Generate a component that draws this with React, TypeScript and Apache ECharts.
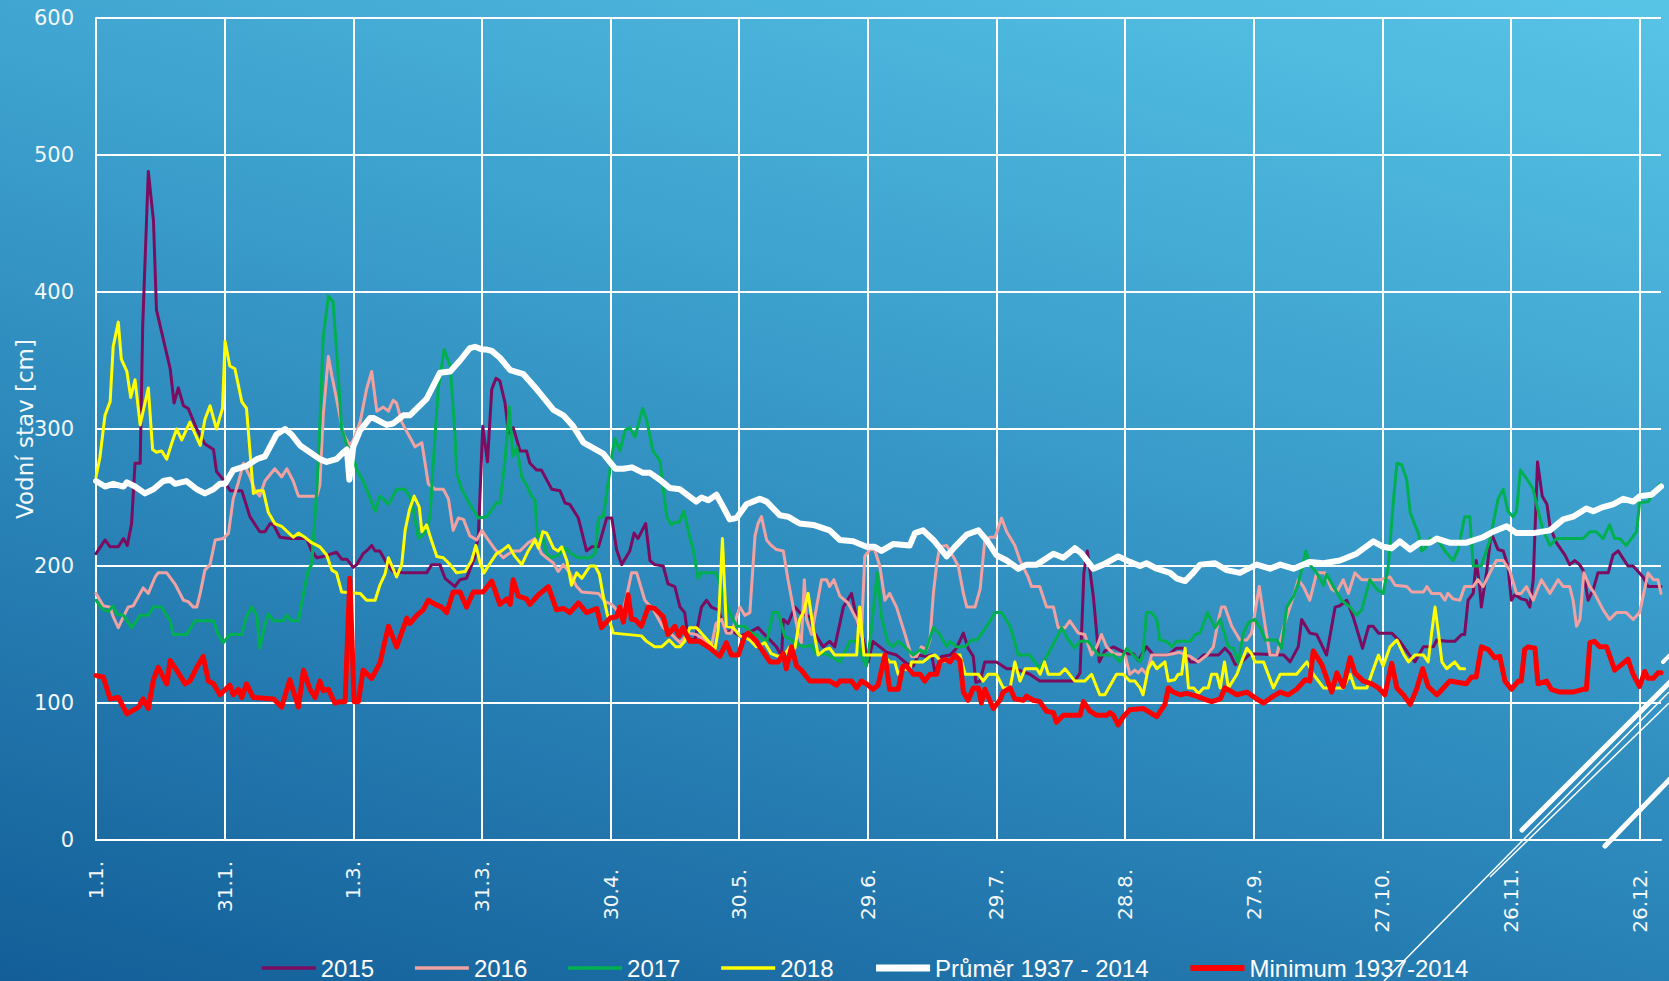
import React, { useEffect, useRef } from 'react';
import * as echarts from 'echarts';

// x tick labels (every 30 days of a leap year)
const TICK_LABELS = ['1.1.', '31.1.', '1.3.', '31.3.', '30.4.', '30.5.', '29.6.', '29.7.', '28.8.', '27.9.', '27.10.', '26.11.', '26.12.'];
const SERIES_NAMES = ['2015', '2016', '2017', '2018', 'Průměr 1937 - 2014', 'Minimum 1937-2014'];
const SERIES_COLORS = ['#7b0c60', '#f0a2a2', '#00b050', '#ffff00', '#ffffff', '#ff0000'];
const SERIES_WIDTHS = [3, 3, 3, 3, 6, 5];
const LEGEND_WIDTHS = [3.5, 3.5, 3.5, 3.5, 7, 6];

// [day of year index, water level cm]
const S2015: [number, number][] = [[0,209],[2.1,219],[3.3,214],[5.2,214],[6.4,220],[7.3,215],[8.3,231],[9.1,275],[10.3,275],[10.9,376],[12.2,488],[13.4,452],[14.1,387],[17.3,344],[18.2,319],[19.2,330],[20.4,317],[21.5,315],[23.5,300],[25.4,289],[27.4,285],[28.1,269],[29.7,263],[31.3,255],[34,255],[35.9,236],[38.2,225],[39.4,225],[40.6,231],[41.4,230],[42.9,221],[45.2,220],[49.1,220],[50.3,211],[51.5,206],[53,207],[56.1,210],[57.3,205],[58.5,205],[60,199],[60.8,201],[62.3,209],[63.1,211],[64.3,215],[65.1,211],[66.2,211],[67.8,202],[69.3,196],[71.7,195],[77.1,195],[78.3,201],[80.2,201],[81.4,191],[83.7,185],[84.9,190],[86.4,191],[88.4,207],[89.2,224],[90.2,302],[91.3,276],[92.3,329],[93.3,337],[94.2,335],[95.4,319],[96.2,297],[97.3,301],[98.9,284],[100.4,284],[101.2,275],[102.8,270],[103.9,270],[106.3,256],[108.2,255],[109.4,246],[110.5,245],[112.5,235],[114.4,211],[115.6,214],[117.2,214],[119.1,235],[120.3,235],[121.4,212],[122.6,201],[124.5,211],[125.5,224],[126.4,220],[128.2,231],[129.2,204],[130.3,201],[132.3,200],[133.4,187],[135,185],[136.2,170],[137.3,166],[138.1,147],[139.7,146],[141.2,170],[142.4,175],[143.5,170],[145.1,168],[147,151],[148.2,153],[150.2,149],[152.1,151],[154.4,155],[155.6,151],[158.7,141],[159.9,134],[160.3,161],[161.4,158],[163,170],[164.1,166],[166.5,163],[167.6,151],[169.6,141],[171.1,145],[172.3,141],[174.3,170],[176.2,180],[178.1,151],[178.9,147],[180.1,130],[181.2,145],[182.8,141],[184.4,137],[186.7,135],[189,129],[190.6,127],[191.8,135],[193.7,134],[194.9,135],[195.7,122],[197.2,134],[199.2,135],[200.7,140],[202.3,151],[203.4,140],[204.6,134],[205.2,115],[206.2,116],[207.3,130],[210,130],[212.4,125],[214.3,125],[217.8,121],[220.1,116],[228.3,116],[229.5,122],[230.4,195],[231.2,211],[232.6,178],[234,130],[235.3,138],[237.3,141],[240.4,136],[241.9,136],[243.1,131],[245,141],[246.6,135],[249.7,135],[250.5,136],[252,140],[253.6,140],[255.2,130],[256.7,130],[258.3,135],[261.8,135],[263.3,140],[264.5,136],[265.7,128],[267.2,130],[269.2,136],[277,135],[278.5,130],[280.4,141],[281.2,161],[283.1,151],[284.7,150],[287,135],[289,170],[290.1,171],[291.7,175],[293.3,162],[295.4,140],[296.8,156],[297.9,156],[299.1,151],[302.2,151],[304.1,145],[306.1,136],[307.6,130],[309.6,141],[311.9,141],[312.7,146],[315,145],[316.9,145],[318.5,150],[319.2,150],[320,175],[321.2,180],[321.9,204],[322.7,185],[323.1,170],[324.3,195],[325.4,224],[327,212],[328.2,211],[329.3,200],[330.1,175],[330.9,179],[332.4,176],[333.6,175],[334.4,170],[335.2,190],[336.2,276],[337.3,251],[338.4,245],[339.1,229],[340.6,217],[342.6,208],[343.7,201],[344.9,204],[346,201],[346.8,197],[348,175],[349.2,183],[350.3,195],[352.7,195],[353.8,208],[355,211],[357.3,200],[358.5,200],[360.8,192],[362,185],[365,185]];

const S2016: [number, number][] = [[0,180],[1.7,171],[3.3,170],[4,163],[5.2,155],[6.4,163],[7.5,170],[8.7,171],[11,184],[12.2,180],[13.8,192],[14.5,195],[16.5,195],[18.4,187],[20.4,175],[21.5,174],[22.7,170],[23.5,170],[24.3,180],[25.4,197],[26.6,201],[27.8,219],[29.7,220],[30.9,224],[32,249],[33.2,261],[34.4,275],[35.9,265],[37.1,255],[38.2,251],[39.4,262],[41.7,271],[43.3,265],[44.5,271],[46,262],[47.2,251],[51.5,251],[52.2,259],[53,310],[54.2,353],[55,339],[56.1,322],[57.7,296],[59.2,288],[60,292],[61.6,305],[63.1,329],[64.3,342],[65.5,313],[67,316],[68.2,313],[69.3,321],[70.1,319],[71.3,305],[73.2,294],[74.4,287],[76,290],[77.5,260],[79.1,256],[81,256],[82.2,249],[83.3,226],[84.5,235],[85.7,234],[87.2,222],[88.8,219],[90,226],[91.5,219],[93.1,212],[95,206],[95.8,208],[97.3,211],[98.9,211],[100.8,217],[102.4,220],[103.9,209],[105.1,206],[106.7,202],[107.8,196],[109,201],[110.5,195],[112.1,185],[113.3,181],[117.2,180],[118.7,174],[120.3,172],[121.4,168],[123,168],[124.1,183],[124.9,195],[126.1,195],[128,175],[130,168],[132.3,155],[134.6,149],[136.2,144],[138.1,151],[140,150],[142,146],[143.5,141],[144.6,158],[145.9,161],[147,151],[148.2,151],[149.4,163],[150.2,170],[151.3,164],[152.5,166],[153.7,222],[154.4,231],[155.2,236],[156.4,219],[157.5,215],[158.7,212],[160.3,211],[161.4,190],[162.6,170],[163.8,151],[164.5,144],[165.2,190],[165.7,161],[166.9,150],[169.2,190],[170.4,190],[171.1,185],[172.1,190],[173.5,178],[175.4,173],[177.4,161],[178.5,149],[179.3,207],[180.5,212],[181.6,212],[182.8,200],[184,175],[185.1,180],[186.7,170],[188.6,151],[190.2,134],[191.4,134],[192.5,141],[193.7,139],[194.5,146],[195.3,180],[196.1,202],[196.8,214],[198.4,215],[199.9,207],[201.1,200],[202.3,180],[203.1,170],[205,170],[206.2,183],[207.3,219],[208.5,221],[209.7,221],[211.2,235],[212.4,225],[214.3,215],[215.5,204],[217.4,192],[218.2,185],[220.1,185],[221.7,170],[223.3,170],[224.4,155],[226,155],[227.1,160],[229.1,151],[230.6,150],[232.2,135],[233.4,141],[234.5,150],[235.7,141],[237.3,136],[240,135],[241.1,121],[242.3,124],[243.1,122],[243.9,125],[245,121],[246.2,135],[249.7,135],[252.8,137],[254,135],[255.2,134],[257.1,130],[259.1,135],[260.6,141],[261.8,161],[262.5,170],[263.3,170],[264.9,156],[266.8,146],[268.4,146],[269.5,151],[271.3,185],[272.7,156],[273.8,135],[275.4,135],[277.3,159],[279.3,178],[280.4,190],[281.6,185],[283.1,175],[284.7,195],[286.6,195],[288.2,183],[289.4,181],[290.9,190],[292.1,180],[293.6,195],[295.2,190],[299.5,190],[301.8,192],[303,186],[305.7,185],[306.9,181],[309.6,181],[310.4,185],[311.5,180],[313.5,180],[314.6,175],[315.3,180],[316.5,176],[318.1,175],[319.2,185],[321.2,185],[322.3,190],[323.5,185],[325.4,197],[326.6,204],[328.2,204],[329.7,197],[331.3,180],[332.4,180],[333.6,185],[335.2,175],[337.1,190],[339.1,180],[341,190],[342.2,185],[343.7,185],[344.5,175],[345.3,156],[346.1,161],[347,195],[348.4,185],[349.5,180],[351.5,168],[353,161],[354.6,166],[356.9,166],[358.5,161],[360,166],[362,195],[363.2,190],[364.3,190],[365,180]];

const S2017: [number, number][] = [[0,175],[1.7,168],[2.9,167],[4,171],[4.8,165],[6.4,164],[8.3,155],[10.3,164],[12.2,164],[13.4,170],[15.3,170],[17.3,160],[18,150],[21.1,150],[23.1,160],[27.4,160],[28.5,150],[29.7,144],[31.2,150],[34,150],[35.1,163],[36.3,170],[37.5,164],[38.2,140],[39.4,157],[40.2,165],[41.4,160],[43.7,160],[44.5,164],[45.6,160],[47.2,160],[48.4,180],[49.5,197],[50.3,201],[51.5,256],[52.2,302],[53,367],[54.2,397],[55.3,393],[56.5,339],[57.3,300],[58.5,288],[60,281],[60.8,270],[62,264],[63.5,253],[65.1,240],[66.2,251],[67,249],[68.2,245],[70.1,256],[72.1,256],[73.6,248],[75.2,220],[76.7,224],[77.9,236],[78.7,277],[79.8,329],[81.2,358],[82.6,346],[83.7,297],[84.1,268],[85.3,256],[87.2,245],[89.2,235],[91.1,236],[93.4,246],[94.2,246],[95.4,277],[96.4,316],[97.2,280],[98.1,287],[99.3,265],[100.4,259],[101.6,251],[102.4,248],[102.9,221],[103.9,224],[105.1,209],[106.3,206],[107.8,208],[109.4,213],[110.9,209],[112.5,206],[115.2,206],[116.4,209],[117.2,235],[118.3,236],[119.5,262],[120.3,280],[121,293],[122.2,284],[123.4,299],[124.5,301],[125.7,294],[127.5,315],[128.4,307],[129.9,284],[131.5,277],[133.1,236],[134.2,230],[135,232],[136,232],[137.1,240],[138.5,221],[139.3,212],[140.4,191],[141.2,195],[144.7,195],[146.3,178],[147.8,166],[149.4,156],[151.3,156],[152.5,152],[154.4,149],[156.4,144],[157.9,166],[159.1,166],[160.6,149],[162.6,145],[164.9,141],[166.9,142],[168,136],[170.4,136],[171.9,133],[173.5,130],[175.8,145],[177.4,145],[178.5,135],[179.7,127],[180.6,147],[182.2,195],[183.2,163],[184.7,144],[185.9,141],[187.1,145],[188.6,141],[190.6,135],[192.2,139],[193.3,136],[195.3,155],[196.8,150],[198.4,141],[199.2,145],[200.7,141],[202.7,141],[204.2,146],[205.4,146],[206.9,152],[209.7,166],[211.2,166],[213.2,156],[215.1,135],[217.8,135],[220.1,125],[221.7,134],[223.6,145],[225.2,155],[226.8,146],[228.3,140],[229.5,145],[231.4,145],[233.8,135],[237.3,135],[238.8,130],[240.4,140],[241.9,135],[243.5,130],[244.2,136],[245,166],[246.2,166],[247.4,161],[248.1,146],[249.7,145],[250.9,141],[252,145],[255.2,145],[256.3,150],[257.5,151],[259.2,166],[261,155],[262.2,161],[264.1,141],[265.3,140],[266.4,129],[267.6,151],[268.8,159],[270.3,161],[271.5,155],[272.7,146],[275.4,146],[276.5,140],[277.7,170],[279.3,178],[280.4,187],[282.2,211],[283.1,201],[284.7,195],[286.3,186],[287,194],[288.6,185],[290.5,175],[292.5,170],[294,164],[295.2,168],[297.1,190],[298.7,183],[300.2,180],[301.4,200],[302.6,248],[303.4,275],[304.5,274],[305.7,263],[306.5,239],[307.6,230],[308.4,224],[309.2,211],[310,213],[311.1,220],[312.7,220],[314.6,211],[316.5,204],[317.7,212],[319.2,236],[320.4,236],[321.2,200],[323.1,200],[325.1,219],[327,249],[328.2,256],[329.3,240],[330.5,236],[331.3,240],[332.2,270],[333.6,264],[335.2,256],[335.9,246],[337.5,226],[339.1,215],[340.6,220],[346.8,220],[348.4,225],[349.9,225],[351.5,220],[353,230],[354.2,220],[355.4,220],[356.9,215],[359.3,225],[360,246],[362,247],[364.7,260]];

const S2018: [number, number][] = [[0,265],[0.9,279],[2.1,310],[3.3,320],[4,360],[5.2,378],[5.9,351],[7.2,342],[8.1,323],[9.1,336],[10.3,303],[12.2,330],[13.2,285],[14.1,283],[15.3,284],[16.5,278],[17.6,289],[18.8,300],[20,292],[21.9,305],[24.3,288],[25.4,307],[26.6,317],[28.1,300],[29.5,315],[30.1,364],[31.2,346],[32.4,344],[34,320],[35.1,315],[36.7,253],[37.9,255],[39,255],[40.2,239],[41.7,231],[43.3,229],[46,221],[47.2,224],[48.7,221],[50.3,217],[52.2,214],[53.8,208],[55,197],[56.1,195],[57.3,181],[61.6,180],[63.1,175],[65.1,175],[66.2,186],[67.4,194],[68.2,206],[69.3,198],[70.1,192],[71.3,201],[72.1,226],[73.1,241],[74.2,251],[75.4,243],[76,225],[77.1,230],[78.3,218],[79.5,207],[81,206],[82.6,201],[84.1,195],[86.1,196],[87.6,204],[88.6,215],[89.6,202],[90.5,195],[91.9,202],[93.4,209],[94.6,211],[96.2,215],[97.7,207],[99.3,201],[100.8,211],[102.4,219],[103.2,213],[104.2,225],[105.1,224],[106.7,213],[107.8,211],[108.6,214],[109.8,204],[110.9,186],[112.1,195],[113.3,191],[115.2,200],[116.4,200],[117.4,194],[118.3,178],[119.3,164],[120.7,151],[127.2,149],[128.4,145],[130.3,141],[131.9,141],[133.7,146],[135.2,141],[136.2,141],[137.3,145],[138.5,155],[140,155],[141.2,151],[143.2,144],[144.3,138],[145.1,153],[146.1,220],[147,156],[148.6,155],[150.2,149],[152.5,146],[154,141],[156,144],[157.5,136],[159.1,134],[160.6,135],[161.8,141],[163,140],[164.1,161],[165.1,167],[166.1,180],[167.1,158],[168.4,135],[170,139],[171.1,140],[172.3,135],[177.4,135],[178.1,170],[179.1,135],[183.6,135],[185.1,130],[186.3,130],[187.1,121],[188.2,125],[189.8,124],[190.2,130],[192.9,130],[194.5,134],[195.7,135],[197.2,130],[198.4,131],[199.2,130],[200.3,135],[201.5,135],[202.7,121],[205.8,121],[206.9,116],[208.1,121],[210,121],[211.6,111],[213.2,111],[214.3,130],[215.5,116],[216.7,125],[219.4,125],[220.2,121],[221.2,130],[222.1,121],[224.8,121],[226,125],[228.3,116],[230.6,116],[232.2,121],[234.1,106],[235.3,106],[238,121],[239.6,121],[241.1,116],[242.3,116],[243.5,111],[244.2,106],[245.4,125],[246.4,130],[247.4,125],[249.3,130],[250.1,116],[251.6,117],[252.4,121],[253.2,121],[254,140],[254.8,111],[256,111],[257.1,107],[258.3,111],[259.4,111],[260.2,121],[261.4,121],[262.2,111],[263.2,130],[264.1,111],[266.1,121],[266.8,127],[268.4,140],[269.5,136],[270.3,130],[272.3,130],[274.6,111],[276.2,121],[280,121],[282.4,130],[283.9,121],[286.3,111],[290.9,111],[292.5,121],[293.6,111],[296.4,111],[297.5,121],[299.1,135],[300.2,127],[301.8,141],[303.4,146],[304.9,136],[306.1,130],[307.6,135],[309.6,135],[310.7,130],[311.5,151],[312.3,170],[313.1,151],[313.9,130],[315,125],[316.9,130],[318.1,125],[319.2,125]];

const AVG: [number, number][] = [[0,262],[2.1,258],[4,260],[6.4,258],[7.2,261],[9.1,258],[11.4,253],[13.4,256],[15.7,262],[17.3,263],[18.4,260],[21.1,262],[23.5,256],[25.4,253],[27.4,256],[28.9,260],[30.1,260],[32,270],[35.1,273],[37.5,278],[39.4,280],[42.1,296],[44.1,300],[45.6,296],[47.6,288],[49.9,283],[52.2,278],[53.8,276],[56.1,278],[57.7,283],[58.5,285],[59.1,263],[60,287],[61.6,299],[63.9,308],[64.7,308],[67.8,303],[69.3,304],[71.7,310],[73.2,310],[77.1,322],[80.2,341],[82.6,342],[84.9,350],[87.2,359],[88.4,360],[90,358],[91.1,358],[92.3,357],[94.2,352],[96.6,343],[99.7,340],[102.8,329],[106.7,314],[109,310],[111.3,302],[113.7,290],[116,286],[118.3,282],[121.1,271],[123,271],[125,272],[127.6,268],[129.2,268],[131.5,263],[133.8,257],[136.2,256],[140,247],[141.2,250],[142.8,248],[144.7,252],[146.3,243],[147.8,234],[149.4,235],[151.7,245],[154.8,249],[156.4,247],[159.5,237],[161.4,236],[164.1,231],[167.3,230],[171.1,226],[173.5,219],[176.6,218],[179.7,214],[181.6,214],[183.2,211],[185.9,216],[189.8,215],[191,224],[192.9,226],[195.3,219],[198.4,207],[200.3,214],[203.1,223],[205.8,226],[207.7,219],[210,208],[212.4,204],[215.1,198],[217,201],[219.4,201],[223.3,209],[225.6,206],[228.3,213],[229.9,209],[232.6,198],[234.9,201],[238.4,207],[241.1,203],[243.5,200],[245,202],[247.4,198],[250.5,195],[252,191],[254,189],[255.6,194],[257.5,201],[261,202],[263.7,197],[266.8,195],[268,197],[270.7,201],[273.8,198],[276.2,201],[279.3,198],[283.1,203],[286.3,202],[290.1,204],[294,209],[297.9,218],[300.2,214],[302.2,213],[304.1,218],[306.5,212],[308.8,217],[311.1,217],[312.7,220],[315.7,217],[319.6,217],[323.5,221],[325.8,225],[329,229],[331.3,224],[335.2,224],[339.1,226],[342.2,234],[344.5,236],[347.6,242],[349.2,240],[351.5,243],[353.8,245],[356.2,249],[358.5,247],[360.1,251],[362.8,252],[365,258]];

const MIN: [number, number][] = [[0,120],[1.7,119],[3.3,103],[5.2,104],[7.2,92],[9.9,97],[11,103],[12.2,96],[13.4,117],[14.5,126],[16.5,114],[17.3,131],[18.8,124],[20.8,114],[21.9,116],[23.5,126],[25,134],[26.2,116],[27.4,114],[28.9,106],[31.2,113],[32,106],[33.2,110],[34,104],[35.1,114],[36.7,104],[41.4,103],[43.3,97],[45.2,117],[47.2,97],[48.4,124],[49.9,110],[51.1,104],[52.2,116],[53,109],[54.2,110],[55.7,100],[56.9,101],[58.1,101],[59.2,191],[60.2,101],[61.2,101],[62.3,124],[64.3,118],[66.2,129],[68.2,156],[70.1,141],[72.5,162],[73.2,158],[74.8,164],[76.3,168],[77.5,175],[79.1,172],[80.6,170],[81.8,166],[83.3,181],[84.9,181],[86.4,170],[88,181],[90.3,181],[92.3,189],[94.2,172],[95.8,176],[96.6,172],[97.3,190],[98.5,178],[100.4,176],[101.2,172],[103.2,179],[105.5,185],[107.4,168],[109,169],[110.5,166],[112.5,173],[114.4,166],[116.8,169],[117.9,155],[119.9,162],[121.4,163],[122.2,170],[123,159],[124.1,179],[124.9,161],[125.7,161],[127.2,156],[128.8,170],[130.3,169],[132.3,163],[133.4,150],[135,156],[136,149],[136.9,155],[138.5,145],[140.8,145],[143.2,140],[145.5,134],[147,144],[148.2,135],[149.8,135],[151.3,149],[152.1,151],[154,145],[157.2,130],[159.1,130],[160.3,136],[161,125],[162.2,141],[163.4,127],[164.5,124],[166.5,116],[171.1,116],[172.7,113],[173.5,116],[176.2,116],[177.4,111],[178.5,116],[179.7,114],[181.2,110],[182.4,113],[184,135],[185.1,110],[187.1,110],[188.2,127],[189,127],[190.6,121],[192.2,121],[193.3,116],[194.5,121],[196.1,121],[196.8,130],[198,132],[199.2,130],[200.3,135],[201.5,131],[202.3,108],[203.4,102],[204.6,111],[205.8,111],[206.5,100],[207.3,110],[209.3,96],[210.8,102],[211.6,108],[213.2,111],[214.3,103],[216.3,102],[217,105],[218.6,102],[220.1,101],[221.7,94],[223.3,93],[224,86],[225.6,91],[229.5,91],[230.3,101],[231.8,94],[233.4,91],[235.7,91],[236.5,93],[237.3,91],[238.4,84],[239.6,90],[241.1,95],[244.2,96],[247.4,90],[249.3,99],[250.1,111],[251.2,108],[252.8,106],[254.4,107],[256.7,105],[258.3,103],[260.2,101],[262.2,103],[263.3,111],[266.1,106],[268.4,108],[270.7,103],[272.3,100],[274.6,105],[276.2,108],[278.1,106],[280,110],[282,117],[283.1,116],[283.9,138],[285.9,128],[288.2,108],[289.4,122],[290.9,112],[292.5,133],[293.6,122],[295.6,116],[297.5,114],[299.1,111],[300.6,106],[302.2,129],[303.4,111],[304.9,106],[306.5,99],[308,110],[309.4,125],[310.7,112],[312.7,106],[313.4,108],[315.7,116],[319.6,114],[320.8,119],[321.9,119],[323.1,141],[324.7,139],[326.2,133],[327.4,134],[328.6,116],[330.1,110],[331.7,116],[332.4,116],[333.2,139],[334,141],[335.6,140],[336.3,114],[338.3,116],[339.4,110],[341.4,108],[344.5,108],[346.8,110],[347.6,110],[348.4,144],[349.5,145],[350.7,141],[352.3,141],[354.2,124],[355.8,128],[357.3,132],[358.5,121],[360,112],[361.2,123],[362,118],[363.2,118],[364.3,122],[365,122]];

const SERIES_DATA = [S2015, S2016, S2017, S2018, AVG, MIN];

export default function App() {
  const ref = useRef<HTMLDivElement>(null);
  useEffect(() => {
    if (!ref.current) return;
    const chart = echarts.init(ref.current, undefined, { renderer: 'svg' });
    const labelFont = 'DejaVu Sans';
    chart.setOption({
      animation: false,
      backgroundColor: 'transparent',
      grid: { left: 96, right: 8, top: 18, bottom: 141, containLabel: false, outerBoundsMode: 'none' },
      legend: {
        show: true,
        left: 255,
        top: 951,
        orient: 'horizontal',
        itemWidth: 54,
        itemHeight: 14,
        itemGap: 39,
        data: SERIES_NAMES.map((name, i) => ({
          name,
          lineStyle: { width: LEGEND_WIDTHS[i], color: SERIES_COLORS[i], cap: 'butt' },
        })),
        itemStyle: { opacity: 0 },
        textStyle: { color: '#ffffff', fontSize: 24, lineHeight: 22, fontFamily: 'Liberation Sans' },
        selectedMode: false,
      },
      xAxis: {
        type: 'value',
        min: 0,
        max: 365,
        interval: 30,
        axisLine: { show: true, onZero: false, lineStyle: { color: '#ffffff', width: 2 } },
        axisTick: { show: false },
        splitLine: { show: true, showMaxLine: false, lineStyle: { color: '#ffffff', width: 2 } },
        axisLabel: {
          show: true,
          rotate: 90,
          margin: 21,
          showMaxLabel: false,
          hideOverlap: false,
          formatter: (v: number) => {
            if (v % 30 !== 0) return '';
            const i = v / 30;
            const s = TICK_LABELS[i] ?? '';
            return i >= 4 ? `{b|${s}}` : `{a|${s}}`;
          },
          rich: {
            a: { color: '#f4f8fb', fontSize: 20, fontFamily: labelFont },
            b: { color: '#f4f8fb', fontSize: 20, fontFamily: labelFont, padding: [0, 8, 0, 0] },
          },
        },
      },
      yAxis: {
        type: 'value',
        min: 0,
        max: 600,
        interval: 100,
        name: 'Vodní stav [cm]',
        nameLocation: 'middle',
        nameGap: 60,
        nameMoveOverlap: false,
        nameTextStyle: { color: '#f4f8fb', fontSize: 23, fontFamily: labelFont },
        axisLine: { show: true, lineStyle: { color: '#ffffff', width: 2 } },
        axisTick: { show: false },
        splitLine: { show: true, lineStyle: { color: '#ffffff', width: 2 } },
        axisLabel: { color: '#f4f8fb', fontSize: 21, fontFamily: labelFont, margin: 22 },
      },
      graphic: [
        { type: 'line', silent: true, shape: { x1: 1384, y1: 981, x2: 1669, y2: 692 }, style: { stroke: '#ffffff', lineWidth: 1.5 } },
        { type: 'line', silent: true, shape: { x1: 1490, y1: 877, x2: 1669, y2: 703 }, style: { stroke: '#ffffff', lineWidth: 1.5 } },
        { type: 'line', silent: true, shape: { x1: 1522, y1: 830, x2: 1672, y2: 680 }, style: { stroke: '#ffffff', lineWidth: 5, lineCap: 'round' } },
        { type: 'line', silent: true, shape: { x1: 1605, y1: 846, x2: 1672, y2: 777 }, style: { stroke: '#ffffff', lineWidth: 5, lineCap: 'round' } },
        { type: 'line', silent: true, shape: { x1: 1663, y1: 662, x2: 1672, y2: 653 }, style: { stroke: '#ffffff', lineWidth: 4, lineCap: 'round' } },
      ],
      series: SERIES_NAMES.map((name, i) => ({
        name,
        type: 'line',
        data: SERIES_DATA[i],
        showSymbol: false,
        symbol: 'none',
        smooth: false,
        silent: true,
        z: 2 + i,
        itemStyle: { color: SERIES_COLORS[i] },
        lineStyle: { color: SERIES_COLORS[i], width: SERIES_WIDTHS[i], cap: 'round', join: 'round' },
        emphasis: { disabled: true },
      })),
    });
    return () => chart.dispose();
  }, []);
  return (
    <div
      style={{
        position: 'fixed',
        left: 0,
        top: 0,
        width: 1669,
        height: 981,
        background: 'linear-gradient(195deg, #58c4e6 0%, #3ea3cf 35%, #2a84b8 65%, #135e98 100%)',
      }}
    >
      <div ref={ref} style={{ width: 1669, height: 981 }} />
    </div>
  );
}
